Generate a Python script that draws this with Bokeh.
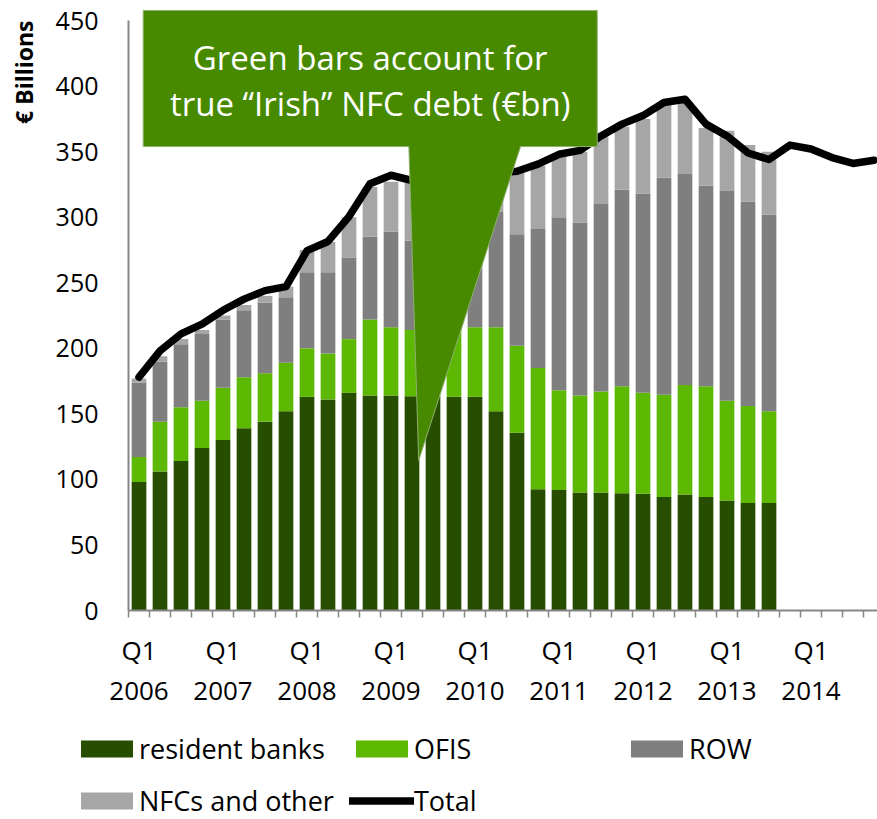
import math
from bokeh.plotting import figure
from bokeh.models import (ColumnDataSource, FixedTicker, Legend, LegendItem,
                          Range1d, LinearAxis, Label)
from bokeh.core.properties import value
from bokeh.embed import file_html
from bokeh.resources import INLINE

# ---------------- data (€ billions) ----------------
years = [2006, 2007, 2008, 2009, 2010, 2011, 2012, 2013, 2014]
tick_labels = [f"Q1\n{y}" for y in years]

# stacked components, Q1 2006 .. Q3 2013 (31 quarters)
resident_banks = [98, 106, 114, 124, 130, 139, 144, 152, 163, 161, 166, 164, 164,
                  163.5, 164, 163, 163, 152, 135.5, 92.5, 92, 90, 90, 89.5, 89,
                  86.5, 88.5, 86.5, 84, 82, 82]
ofis = [19, 38, 41, 36, 40, 39, 37, 37, 37, 35, 41, 58, 52, 50.5, 51, 52, 53, 64,
        66.5, 92.5, 76, 74, 77, 81.5, 77, 78, 83.5, 84.5, 76, 74, 70]
row = [57, 46, 48, 51, 52, 51, 54, 50, 58, 62, 62, 63, 73, 68, 66, 75, 84, 88, 85,
       106, 132, 132, 143, 150, 152, 165.5, 161, 153, 160, 156, 150]
nfcs_other = [3, 4, 4, 3, 3, 4, 5, 8, 17, 23, 31, 38, 38, 45, 45, 38, 32, 30, 47,
              48, 47, 54, 52, 48, 57, 56, 55, 44, 46, 43, 48]

# total line, Q1 2006 .. Q4 2014 (36 quarters)
total = [178, 198, 211, 218.5, 229, 237.5, 244, 247, 274.5, 281.5, 300.5, 325.5,
         332, 328, 326, 328, 332, 334, 335, 340.5, 348, 351, 362, 371, 377.5,
         387.5, 390, 371, 362, 349, 344, 355, 352, 345.5, 341, 343.5]

series_names = ["resident banks", "OFIS", "ROW", "NFCs and other", "Total"]
y_title = "\u20ac Billions"
callout_lines = ["Green bars account for", "true \u201cIrish\u201d NFC debt (\u20acbn)"]

# ---------------- sources ----------------
n_bars = len(resident_banks)
bar_src = ColumnDataSource(dict(q=list(range(n_bars)), banks=resident_banks,
                                ofis=ofis, row=row, nfc=nfcs_other))
line_src = ColumnDataSource(dict(q=list(range(len(total))), total=total))

C_BANKS = "#264D00"
C_OFIS = "#5CB800"
C_ROW = "#7F7F7F"
C_NFC = "#A6A6A6"
BAR_COLORS = [C_BANKS, C_OFIS, C_ROW, C_NFC]
C_CALLOUT = "#478A00"
AXIS_C = "#868686"
FONT = "Open Sans"

# frame covers the whole canvas; axes are pinned inside it
W, H = 877, 819
PX_PER_Q = 21.0            # pixels per quarter
PX_PER_BN = 1.311          # pixels per € bn
X0_PX, Y0_PX = 128, 610    # canvas position of the axes' corner
x_lo = -0.5 - X0_PX / PX_PER_Q
x_hi = x_lo + W / PX_PER_Q
y_hi = Y0_PX / PX_PER_BN
y_lo = y_hi - H / PX_PER_BN

p = figure(width=W, height=H, output_backend="svg", toolbar_location=None,
           x_range=Range1d(x_lo, x_hi), y_range=Range1d(y_lo, y_hi),
           x_axis_type=None, y_axis_type=None,
           min_border_left=0, min_border_right=0, min_border_top=0,
           min_border_bottom=0)
p.outline_line_color = None
p.grid.visible = False
p.background_fill_color = "white"
p.border_fill_color = "white"

rs = p.vbar_stack(["banks", "ofis", "row", "nfc"], x="q", width=0.7,
                  source=bar_src, color=BAR_COLORS, line_color=None)

ln = p.line("q", "total", source=line_src, line_color="black", line_width=7.5,
            line_join="round", line_cap="round")

# ---------------- callout annotation ----------------
box_l, box_r, box_b, box_t = 0.2, 21.82, 353.9, 457.7
ptr_l, ptr_r, tip_x, tip_y = 12.85, 18.17, 13.32, 114.5
p.patch([box_l, box_r, box_r, ptr_r, tip_x, ptr_l, box_l],
        [box_t, box_t, box_b, box_b, tip_y, box_b, box_b],
        fill_color=C_CALLOUT, line_color="#8FB070", line_width=1)
txt_x = (box_l + box_r) / 2
p.text(x=[txt_x, txt_x], y=[421.5, 387], text=callout_lines,
       text_font=value(FONT), text_font_size="33px", text_color="white",
       text_align="center", text_baseline="middle")

# ---------------- axes (pinned) ----------------
xa = LinearAxis(fixed_location=0, bounds=(-0.5, x_hi + 1))
xa.ticker = FixedTicker(ticks=[4 * i for i in range(len(years))],
                        minor_ticks=[i - 0.5 for i in range(37)])
xa.major_label_overrides = {4 * i: lab for i, lab in enumerate(tick_labels)}
xa.axis_line_color = AXIS_C
xa.axis_line_width = 2
xa.major_tick_line_color = None
xa.major_tick_out = 0
xa.major_tick_in = 0
xa.minor_tick_line_color = AXIS_C
xa.minor_tick_line_width = 1.5
xa.minor_tick_out = 7
xa.minor_tick_in = 0
xa.major_label_standoff = 14
xa.major_label_text_font = FONT
xa.major_label_text_font_size = "26px"
xa.major_label_text_line_height = 1.13
xa.major_label_text_color = "black"
p.add_layout(xa, "below")

ya = LinearAxis(fixed_location=-0.5, bounds=(0, 450))
ya.ticker = FixedTicker(ticks=list(range(0, 451, 50)))
ya.axis_line_color = AXIS_C
ya.axis_line_width = 2
ya.major_tick_line_color = None
ya.minor_tick_line_color = None
ya.major_tick_out = 0
ya.major_tick_in = 0
ya.major_label_standoff = 30
ya.major_label_text_font = FONT
ya.major_label_text_font_size = "25px"
ya.major_label_text_color = "black"
p.add_layout(ya, "left")

p.add_layout(Label(x=23, y=H - 20, x_units="screen", y_units="screen",
                   text=y_title, angle=math.pi / 2, text_align="right",
                   text_baseline="middle", text_font=FONT,
                   text_font_style="bold", text_font_size="23px",
                   text_color="black"))

# ---------------- legend ----------------
legend = Legend(items=[LegendItem(label=n, renderers=[r])
                       for n, r in zip(series_names, list(rs) + [ln])],
                location=(74, 0), orientation="horizontal", ncols=3,
                glyph_width=65, glyph_height=21, label_width=195,
                label_height=30, spacing=15, label_standoff=0, padding=0,
                margin=0, border_line_color=None, background_fill_alpha=0,
                label_text_font=FONT, label_text_font_size="27px",
                label_text_color="black")
p.add_layout(legend, "center")

open("out.html", "w").write(file_html(p, INLINE))
